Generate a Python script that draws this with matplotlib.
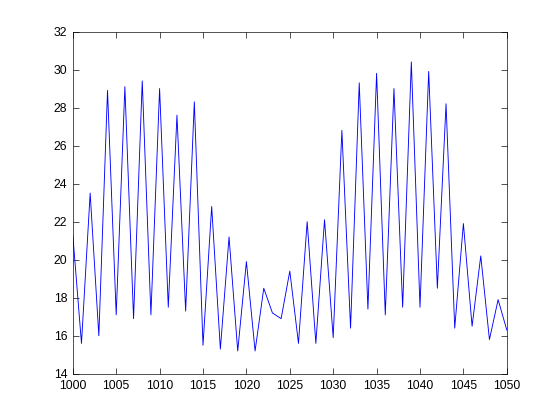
import numpy as np
import matplotlib.pyplot as plt

plt.rcParams['font.family'] = ['Liberation Sans', 'DejaVu Sans']

x_data = np.arange(1000, 1051)
y_data = [21.3, 15.6, 23.5, 16.0, 28.9, 17.1, 29.1, 16.9, 29.4, 17.1,
          29.0, 17.5, 27.6, 17.3, 28.3, 15.5, 22.8, 15.3, 21.2, 15.2,
          19.9, 15.2, 18.5, 17.2, 16.9, 19.4, 15.6, 22.0, 15.6, 22.1,
          15.9, 26.8, 16.4, 29.3, 17.4, 29.8, 17.1, 29.0, 17.5, 30.4,
          17.5, 29.9, 18.5, 28.2, 16.4, 21.9, 16.5, 20.2, 15.8, 17.9,
          16.3]

fig = plt.figure(figsize=(7, 5.25), dpi=80)
ax = fig.add_axes([0.13, 0.11, 0.775, 0.815])
ax.plot(x_data, y_data, '-', color='blue', linewidth=0.8)

ax.set_xlim(1000, 1050)
ax.set_ylim(14, 32)
ax.set_xticks(np.arange(1000, 1051, 5))
ax.set_yticks(np.arange(14, 33, 2))
ax.tick_params(direction='in', top=True, right=True, labelsize=11, length=5, width=0.6)
ax.tick_params(axis='x', pad=6)
ax.tick_params(axis='y', pad=5)
for s in ax.spines.values():
    s.set_linewidth(0.6)

plt.savefig('out.png', dpi=80)
